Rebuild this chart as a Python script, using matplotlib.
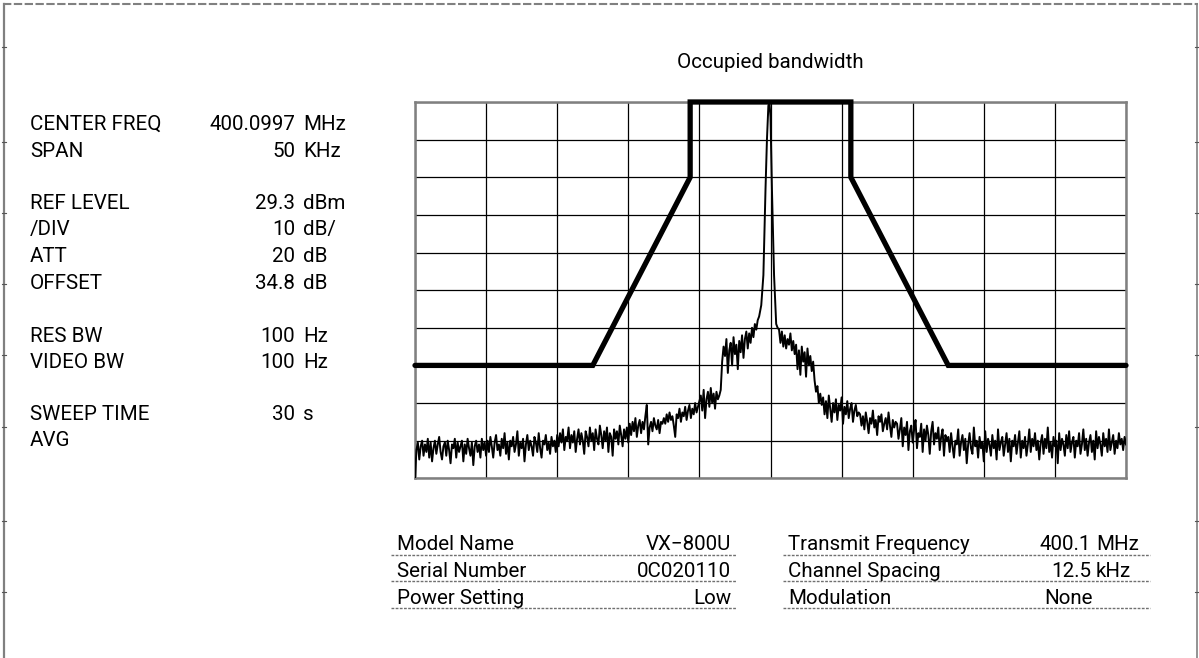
import numpy as np
import matplotlib
matplotlib.use("Agg")
import matplotlib.pyplot as plt
from matplotlib.lines import Line2D

# ---------------- data ----------------
title = "Occupied bandwidth"

setting_labels = ["CENTER FREQ", "SPAN", "REF LEVEL", "/DIV", "ATT", "OFFSET",
                  "RES BW", "VIDEO BW", "SWEEP TIME", "AVG"]
setting_values = ["400.0997", "50", "29.3", "10", "20", "34.8", "100", "100", "30", ""]
setting_units = ["MHz", "KHz", "dBm", "dB/", "dB", "dB", "Hz", "Hz", "s", ""]

left_table_labels = ["Model Name", "Serial Number", "Power Setting"]
left_table_values = ["VX\u2212800U", "0C020110", "Low"]
right_table_labels = ["Transmit Frequency", "Channel Spacing", "Modulation"]
right_table_values = ["400.1", "12.5", "None"]
right_table_units = ["MHz", "kHz", ""]

# spectrum mask (x in divisions, y in divisions)
mask_x = [0, 2.5, 3.87, 3.87, 6.13, 6.13, 7.5, 10]
mask_y = [3, 3, 8, 10, 10, 8, 3, 3]

# measured trace, lower sideband (x = 0 .. 4.84 div, step 0.02)
trace_low = [
    0.0, 0.75, 0.95, 0.5, 0.85, 1.0, 0.6, 0.9, 0.7, 1.05,
    0.55, 0.95, 0.45, 0.8, 1.0, 0.65, 0.9, 1.1, 0.7, 0.5,
    0.85, 0.95, 0.6, 1.0, 0.75, 0.4, 0.9, 0.8, 1.05, 0.55,
    0.95, 0.7, 0.85, 1.0, 0.45, 0.9, 0.65, 1.05, 0.8, 0.6,
    0.95, 0.35, 0.85, 1.0, 0.7, 0.9, 0.55, 1.05, 0.75, 0.95,
    0.6,
    1.0, 0.7, 1.1, 0.85, 0.55, 0.95, 1.15, 0.75, 0.9, 0.6,
    1.05, 0.8, 1.2, 0.65, 0.95, 0.5, 1.0, 0.85, 1.1, 0.7,
    0.9, 1.25, 0.6, 0.95, 0.8, 1.05, 0.45, 0.9, 1.15, 0.75,
    1.0, 0.85, 0.6, 1.1, 0.95, 0.7, 1.2, 0.8, 0.55, 1.0,
    0.9, 1.15, 0.75, 0.95, 0.65, 1.1, 0.85, 1.0, 0.7, 1.15,
    0.85, 1.2, 0.95, 1.3, 0.75, 1.1, 1.0, 1.35, 0.8, 1.15,
    0.95, 1.25, 0.7, 1.05, 1.3, 0.9, 1.2, 1.0, 0.65, 1.25,
    1.1, 0.85, 1.35, 1.0, 1.2, 0.75, 1.3, 1.05, 0.9, 1.4,
    1.15, 0.8, 1.25, 1.0, 1.35, 0.7, 1.2, 1.1, 0.6, 1.3,
    1.05, 1.25, 0.9, 1.4, 1.15, 0.85, 1.3, 1.05, 1.35, 0.95,
    1.45, 1.15, 1.5, 1.25, 1.6, 1.1, 1.4, 1.55, 1.2, 1.5,
    1.3, 1.65, 1.95, 0.9, 1.35, 1.5, 1.25, 1.6, 1.4, 1.3,
    1.55, 1.2, 1.5, 1.45, 1.6,
    1.45, 1.7, 1.5, 1.75, 1.55, 1.65, 1.4, 1.1, 1.7, 1.6,
    1.85, 1.5, 1.75, 1.65, 1.9, 1.55, 1.8, 1.95, 1.6, 1.85,
    1.7, 2.0, 1.75, 1.9, 2.05,
    2.2, 1.8, 2.35, 1.6, 2.1, 2.3, 1.9, 2.4, 2.0, 2.25,
    1.85, 2.3, 2.1, 2.2, 2.35,
    3.1, 3.5, 3.25, 3.7, 2.8, 3.4, 3.6, 3.0, 3.75, 3.3,
    3.55, 2.9, 3.65, 3.35, 3.8, 3.2, 3.7, 3.9, 3.45, 3.85,
    3.6, 4.0, 3.75, 4.1, 3.95, 4.2, 4.3]

# carrier peak
peak_x = [4.87, 4.90, 4.93, 4.95, 4.97, 4.985, 5.00, 5.02, 5.05, 5.08, 5.10]
peak_y = [4.6, 5.4, 7.7, 9.0, 9.9, 10.0, 9.6, 7.7, 5.4, 4.1, 4.0]

# measured trace, upper sideband (x = 5.12 .. 10 div, step 0.02)
trace_high = [
    3.95, 3.6, 3.9, 3.5, 3.8, 3.45, 3.7, 3.55, 3.85, 3.4, 3.65,
    3.3, 3.55, 2.9, 3.4, 2.75, 3.5, 3.1, 3.35, 2.7, 3.45, 3.0, 3.25, 2.85, 3.1,
    2.6, 2.3, 2.45, 2.0, 2.25, 1.95,
    2.15, 1.7, 2.05, 1.6, 2.2, 1.85, 1.5, 2.0, 1.75, 2.1, 1.55, 1.95, 1.8,
    2.15, 1.45, 1.9, 1.7, 2.05, 1.6, 1.85, 2.0, 1.5, 1.8, 1.95, 1.65, 1.75,
    1.7, 1.4, 1.65, 1.3, 1.75, 1.5, 1.2, 1.6, 1.45, 1.8, 1.35, 1.55, 1.15,
    1.65, 1.5, 1.7, 1.25, 1.45, 1.6, 1.3, 1.75, 1.4, 1.1, 1.55, 1.35, 1.5,
    1.45, 1.05, 1.3, 1.6, 0.85, 1.35, 1.15, 1.5, 0.75, 1.25, 1.4, 0.95,
    1.3, 1.55, 0.8, 1.2, 1.1, 1.45, 0.7, 1.3, 1.0, 1.4, 1.15, 0.65,
    1.25, 1.5, 0.9, 1.2, 1.05, 1.35, 0.75, 1.1, 1.3, 0.6, 1.15, 1.0,
    1.1, 0.7, 1.2, 0.85, 0.55, 1.0, 0.9, 1.3, 0.6, 0.95,
    1.15, 0.75, 1.05, 0.4, 0.9, 1.2, 0.8, 0.65, 1.35, 0.85,
    1.0, 0.55, 1.1, 0.8, 0.95, 0.45, 1.25, 0.7, 1.05, 0.9,
    0.6, 1.15, 0.8, 1.0, 0.5, 1.3, 0.75, 0.95, 1.1, 0.6,
    0.9, 1.2, 0.7, 1.05, 0.45, 1.0, 0.85, 1.15, 0.65, 0.95,
    1.25, 0.55, 1.0, 0.8, 1.1, 0.6, 0.9, 1.3, 0.7, 1.05,
    0.85, 1.2, 0.75, 1.0, 0.5, 0.95, 1.15, 0.65, 1.05, 0.8,
    1.35, 0.7, 0.95, 0.55, 1.1, 0.85, 1.0, 0.4, 1.2, 0.75,
    1.05, 0.9, 0.6, 1.15, 0.8, 1.25, 0.7, 0.95, 1.1, 0.55,
    1.0, 0.85, 1.2, 0.65, 0.9, 1.3, 0.75, 1.05, 0.6, 0.95,
    1.15, 0.7, 1.0, 0.5, 1.25, 0.8, 1.1, 0.9, 0.6, 1.2,
    0.85, 1.05, 0.7, 1.3, 0.75, 0.95, 1.15, 0.65, 1.0, 0.8,
    1.2, 0.9, 1.05, 0.75, 1.1, 0.9]

# ---------------- figure ----------------
W, H = 1199, 658
fig = plt.figure(figsize=(W / 100, H / 100), dpi=100)
FONT = ["Roboto", "DejaVu Sans"]
FS = 14.8


def fx(x):
    return x / W


def fy(y):
    return 1 - y / H


def ftext(x, y, s, ha="left", size=FS):
    fig.text(fx(x), fy(y), s, ha=ha, va="baseline", fontsize=size,
             family=FONT, color="black")


# page frame
GRAY = "#808080"
fig.add_artist(Line2D([fx(3), fx(1198)], [fy(4), fy(4)], color=GRAY, lw=1.5,
                      linestyle=(0, (4, 1.2))))
fig.add_artist(Line2D([fx(4), fx(4)], [fy(4), fy(658)], color=GRAY, lw=1.6))
fig.add_artist(Line2D([fx(1197), fx(1197)], [fy(4), fy(658)], color=GRAY, lw=1.2))
for ty in [47, 142, 213, 284, 355, 427, 521, 592]:
    fig.add_artist(Line2D([fx(2), fx(6)], [fy(ty), fy(ty)], color="#555555", lw=0.8))
    fig.add_artist(Line2D([fx(1195), fx(1199)], [fy(ty), fy(ty)], color="#555555", lw=0.8))

# main plot axes
x0, x1, y0, y1 = 415, 1126, 102, 478.3
ax = fig.add_axes([fx(x0), fy(y1), (x1 - x0) / W, (y1 - y0) / H])
ax.set_xlim(0, 10)
ax.set_ylim(0, 10)
ax.set_xticks(range(11))
ax.set_yticks(range(11))
ax.tick_params(length=0, labelbottom=False, labelleft=False)
ax.grid(True, color="black", lw=0.9)
ax.set_axisbelow(True)
for sp in ax.spines.values():
    sp.set_color(GRAY)
    sp.set_linewidth(1.8)

low_x = np.linspace(0, 4.84, len(trace_low))
high_x = np.linspace(5.12, 10.0, len(trace_high))
tx = np.concatenate([low_x, peak_x, high_x])
ty_ = np.concatenate([trace_low, peak_y, trace_high])
ax.plot(tx, ty_, color="black", lw=1.4, zorder=3)
ax.plot(mask_x, mask_y, color="black", lw=3.8, solid_capstyle="round",
        solid_joinstyle="miter", clip_on=False, zorder=4)

# title
ftext(770, 68, title, ha="center")

# settings block
base_y = [130, 157, 209, 235, 262, 289, 342, 368.5, 420.5, 446.5]
for lab, val, unit, by in zip(setting_labels, setting_values, setting_units, base_y):
    ftext(30, by, lab)
    if val:
        ftext(295, by, val, ha="right")
    if unit:
        ftext(303, by, unit)

# info tables
row_base = [550, 577, 603.5]
row_line = [554.5, 581.3, 608.3]
for lab, val, by in zip(left_table_labels, left_table_values, row_base):
    ftext(397, by, lab)
    ftext(731, by, val, ha="right")
for lab, val, unit, by in zip(right_table_labels, right_table_values, right_table_units, row_base):
    ftext(788, by, lab)
    if unit:
        ftext(1091, by, val, ha="right")
        ftext(1096, by, unit)
    else:
        ftext(1093, by, val, ha="right")
for ly in row_line:
    fig.add_artist(Line2D([fx(391), fx(736)], [fy(ly), fy(ly)], color="#707070", lw=1.0,
                          linestyle=(0, (2, 1))))
    fig.add_artist(Line2D([fx(783), fx(1150)], [fy(ly), fy(ly)], color="#707070", lw=1.0,
                          linestyle=(0, (2, 1))))

fig.savefig("out.png", dpi=100)
